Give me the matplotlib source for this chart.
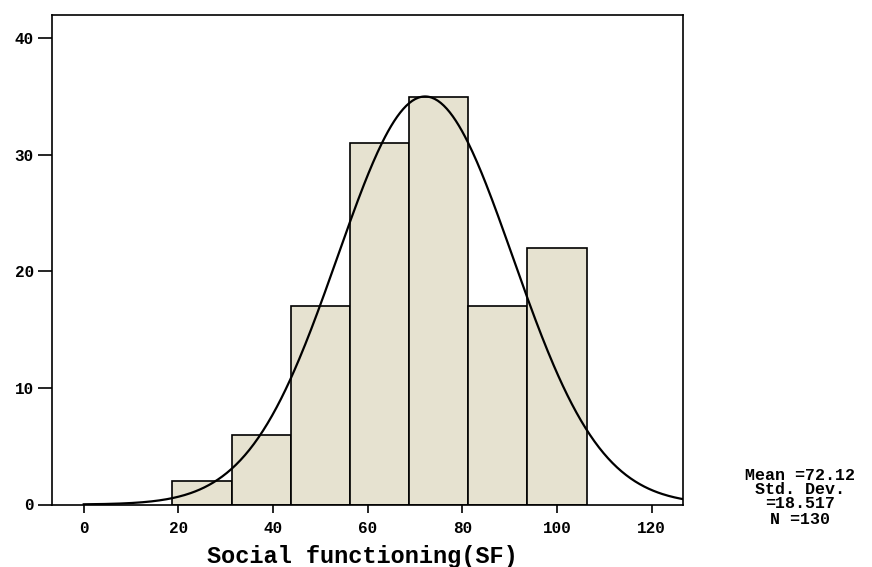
import numpy as np
import matplotlib
matplotlib.use('Agg')
import matplotlib.pyplot as plt

# histogram data
bin_edges = [18.75, 31.25, 43.75, 56.25, 68.75, 81.25, 93.75, 106.25]
counts = [2, 6, 17, 31, 35, 17, 22]
mean = 72.12
std = 18.517
n = 130
x_ticks = [0, 20, 40, 60, 80, 100, 120]
y_ticks = [0, 10, 20, 30, 40]
stats_lines = ['Mean =72.12', 'Std. Dev.', '=18.517', 'N =130']

plt.rcParams['font.family'] = ['Liberation Mono', 'DejaVu Sans Mono']
plt.rcParams['font.weight'] = 'bold'

W, H = 872, 567
fig = plt.figure(figsize=(W / 100, H / 100), dpi=100)
ax = fig.add_axes([52 / W, 1 - 504.5 / H, (683 - 52) / W, (504.5 - 15) / H])

widths = np.diff(bin_edges)
ax.bar(bin_edges[:-1], counts, width=widths, align='edge',
       color='#e6e2d0', edgecolor='black', linewidth=1.2, zorder=2)

# normal curve scaled to counts
bw = widths[0]
xs = np.linspace(0, 127, 400)
ys = n * bw * np.exp(-0.5 * ((xs - mean) / std) ** 2) / (std * np.sqrt(2 * np.pi))
ax.plot(xs, ys, color='black', lw=1.6, zorder=3)

ax.set_xlim(-6.7, 126.6)
ax.set_ylim(0, 42)
ax.set_xticks(x_ticks)
ax.set_yticks(y_ticks)
ax.tick_params(axis='y', length=10, width=1.2, pad=3, labelsize=11.5)
ax.tick_params(axis='x', length=6, width=1.2, pad=6, labelsize=11.5)
for sp in ax.spines.values():
    sp.set_linewidth(1.2)

fig.text(362 / W, 1 - 556 / H, 'Social functioning(SF)',
         ha='center', va='center', fontsize=17, fontweight='bold')

# summary box to the right, one line at a time
for line, ypix in zip(stats_lines, [475, 490, 504, 519]):
    fig.text(800 / W, 1 - ypix / H, line, ha='center', va='center',
             fontsize=12, fontweight='bold')

fig.savefig('out.png', dpi=100, facecolor='white')
